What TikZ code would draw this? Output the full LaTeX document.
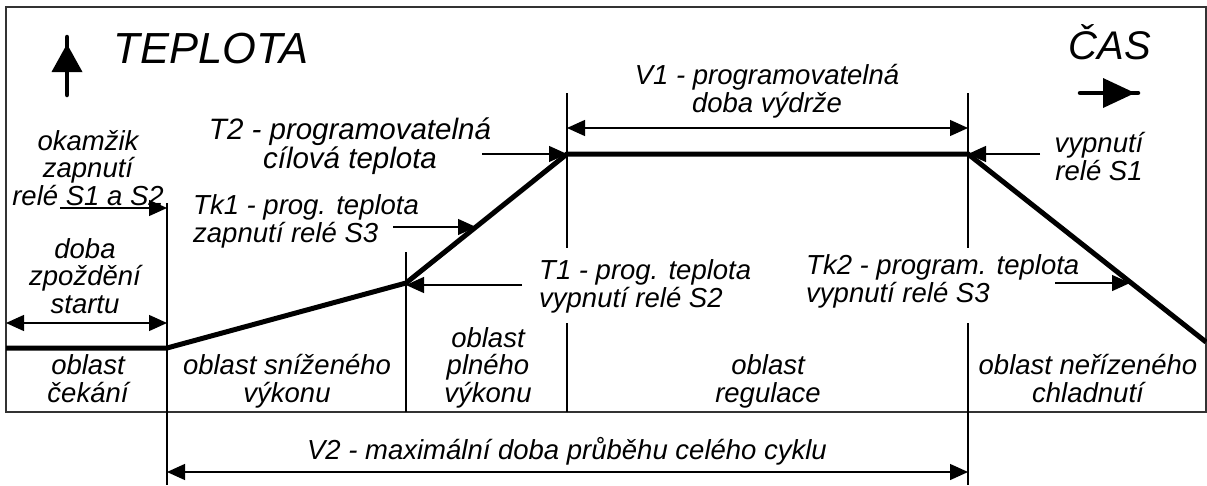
\documentclass[tikz,border=0pt]{standalone}
\usepackage{fontspec}
\setmainfont{Liberation Sans}
\usetikzlibrary{arrows.meta}
\begin{document}
\begin{tikzpicture}[x=1pt,y=-1pt,
  lbl/.style={font=\fontsize{27.5}{27.5}\selectfont\itshape, inner sep=0pt, align=center, anchor=base},
  lbll/.style={lbl, align=left, anchor=base west},
  title/.style={font=\fontsize{43.5}{48}\selectfont\itshape, inner sep=0pt, anchor=base},
  conn/.style={line width=1.3pt, -{Triangle[length=18pt,width=16pt]}},
  dimline/.style={line width=1.3pt, {Triangle[length=18pt,width=16pt]}-{Triangle[length=18pt,width=16pt]}},
  guide/.style={line width=1.3pt},
  framebox/.style={line width=2pt, draw=black!80},
  curve/.style={line width=5pt, line join=miter},
  bigshaft/.style={line width=4.5pt, line cap=round},
]
\useasboundingbox (0,0) rectangle (1207,485);
\draw[framebox] (6,7) rectangle (1206,412);

% key points of the temperature curve
\coordinate (p0) at (6,348);
\coordinate (p1) at (167,348);
\coordinate (p2) at (406,283);
\coordinate (p3) at (567,154);
\coordinate (p4) at (968,154);
\coordinate (p5) at (1206,342);

% guide lines
\coordinate (g1a) at (167,203); \coordinate (g1b) at (167,485);
\coordinate (g2a) at (406,252); \coordinate (g2b) at (406,412);
\coordinate (g3a) at (567,93);  \coordinate (g3b) at (567,248);
\coordinate (g3c) at (567,323); \coordinate (g3d) at (567,412);
\coordinate (g4a) at (968,93);  \coordinate (g4b) at (968,248);
\coordinate (g4c) at (968,323); \coordinate (g4d) at (968,485);
\draw[guide] (g1a) -- (g1b);
\draw[guide] (g2a) -- (g2b);
\draw[guide] (g3a) -- (g3b) (g3c) -- (g3d);
\draw[guide] (g4a) -- (g4b) (g4c) -- (g4d);

% curve
\draw[curve] (p0) -- (p1) -- (p2) -- (p3) -- (p4) -- (p5);

% axis arrows
\coordinate (ta) at (67,95); \coordinate (tb) at (67,37);
\draw[bigshaft] (ta) -- (tb);
\fill (67,44) -- (82.5,72) -- (51.5,72) -- cycle;
\coordinate (ca) at (1080,93); \coordinate (cb) at (1138,93);
\draw[bigshaft] (ca) -- (cb);
\fill (1135,93) -- (1103,78) -- (1103,108) -- cycle;

\node[title] (teplota) at (211,63) {TEPLOTA};
\node[title, font=\fontsize{40}{44}\selectfont\itshape] (cas) at (1110,59) {ČAS};

% labels (anchor = baseline of the last line)
\node[lbl] (okamzik) at (88,205) {okamžik\\zapnutí\\relé S1 a S2};
\node[lbl] (doba) at (85,313) {doba\\zpoždění\\startu};
\node[lbl, font=\fontsize{29.5}{27.5}\selectfont\itshape] (t2) at (350,168) {T2 - programovatelná\\cílová teplota};
\node[lbll] (tk1) at (193,242) {Tk1 - prog. teplota\\zapnutí relé S3};
\node[lbll] (t1) at (539,307) {T1 - prog. teplota\\vypnutí relé S2};
\node[lbll] (tk2) at (806,302) {Tk2 - program. teplota\\vypnutí relé S3};
\node[lbl] (v1) at (767,112) {V1 - programovatelná\\doba výdrže};
\node[lbl] (vyps1) at (1099,180) {vypnutí\\relé S1};
\node[lbl] (ocek) at (88,402) {oblast\\čekání};
\node[lbl] (osniz) at (287,402) {oblast sníženého\\výkonu};
\node[lbl] (oplne) at (488,402) {oblast\\plného\\výkonu};
\node[lbl] (oreg) at (768,402) {oblast\\regulace};
\node[lbl] (ochl) at (1088,402) {oblast neřízeného\\chladnutí};
\node[lbl] (v2) at (567,459) {V2 - maximální doba průběhu celého cyklu};

% connectors
\coordinate (s12) at (60,208);  \coordinate (s12e) at (167,208);
\draw[conn] (s12) -- (s12e);
\coordinate (da) at (6,323); \coordinate (db) at (167,323);
\draw[dimline] (da) -- (db);
\coordinate (t2s) at (482,154);
\draw[conn] (t2s) -- (p3);
\coordinate (tk1s) at (393,227); \coordinate (tk1e) at (476,227);
\draw[conn] (tk1s) -- (tk1e);
\coordinate (t1s) at (522,285); \coordinate (t1e) at (406,285);
\draw[conn] (t1s) -- (t1e);
\coordinate (v1a) at (567,128); \coordinate (v1b) at (968,128);
\draw[dimline] (v1a) -- (v1b);
\coordinate (s1s) at (1040,154);
\draw[conn] (s1s) -- (p4);
\coordinate (tk2s) at (1055,283); \coordinate (tk2e) at (1130,283);
\draw[conn] (tk2s) -- (tk2e);
\coordinate (v2a) at (167,472); \coordinate (v2b) at (968,472);
\draw[dimline] (v2a) -- (v2b);
\end{tikzpicture}
\end{document}
